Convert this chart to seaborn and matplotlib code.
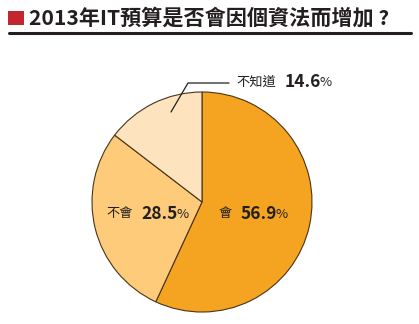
import matplotlib
matplotlib.use("Agg")
import matplotlib.pyplot as plt
import seaborn as sns

# ---- data ----
categories = ["會", "不會", "不知道"]
values = [56.9, 28.5, 14.6]
value_labels = ["56.9", "28.5", "14.6"]
title = "2013年IT預算是否會因個資法而增加 ?"

sns.set_theme(style="white")
plt.rcParams['font.family'] = ['Noto Sans CJK TC', 'DejaVu Sans']

colors = ["#F5A422", "#FDCB7A", "#FDE4BE"]

W, H = 419, 324
fig = plt.figure(figsize=(W / 100, H / 100), dpi=100)
fig.patch.set_facecolor("white")

def fx(x):
    return x / W

def fy(y):
    return 1 - y / H

# title decorations
fig.patches.append(plt.Rectangle((fx(8), fy(25)), 16 / W, 14 / H, transform=fig.transFigure,
                                 facecolor="#C1272D", edgecolor="none"))
fig.lines.append(plt.Line2D([fx(9), fx(411)], [fy(32.5), fy(32.5)], transform=fig.transFigure,
                            color="#231F20", lw=2.2))
fig.text(fx(29), fy(18.5), title, fontsize=15.2, fontweight="heavy", color="#231F20",
         va="center", ha="left")

# pie
cx, cy, r = 202, 202, 110
ax = fig.add_axes([fx(cx - r), fy(cy + r), 2 * r / W, 2 * r / H])
ax.pie(values, colors=colors, startangle=90, counterclock=False, radius=1,
       wedgeprops=dict(edgecolor="#4A3418", linewidth=0.8))
ax.set_xlim(-1, 1)
ax.set_ylim(-1, 1)
ax.set_aspect("equal")
ax.axis("off")

# leader line for small slice
fig.lines.append(plt.Line2D([fx(171), fx(188), fx(229)], [fy(112), fy(83), fy(83)],
                            transform=fig.transFigure, color="#231F20", lw=0.9))

fig.canvas.draw()
renderer = fig.canvas.get_renderer()

def label(x, y, name, val):
    t1 = fig.text(fx(x), fy(y), name, fontsize=9.5, color="#231F20",
                  va="center", ha="left")
    bb = t1.get_window_extent(renderer)
    t2 = fig.text((bb.x1 + 9) / W, fy(y), val, fontsize=12.5, fontweight="bold",
                  color="#231F20", va="center", ha="left")
    bb2 = t2.get_window_extent(renderer)
    fig.text((bb2.x1 - 1.5) / W, fy(y), "%", fontsize=9.5, color="#231F20",
             va="center", ha="left")

label(218, 214, categories[0], value_labels[0])
label(106, 214, categories[1], value_labels[1])
label(236, 82, categories[2], value_labels[2])

fig.savefig("out.png", dpi=100, facecolor="white")
